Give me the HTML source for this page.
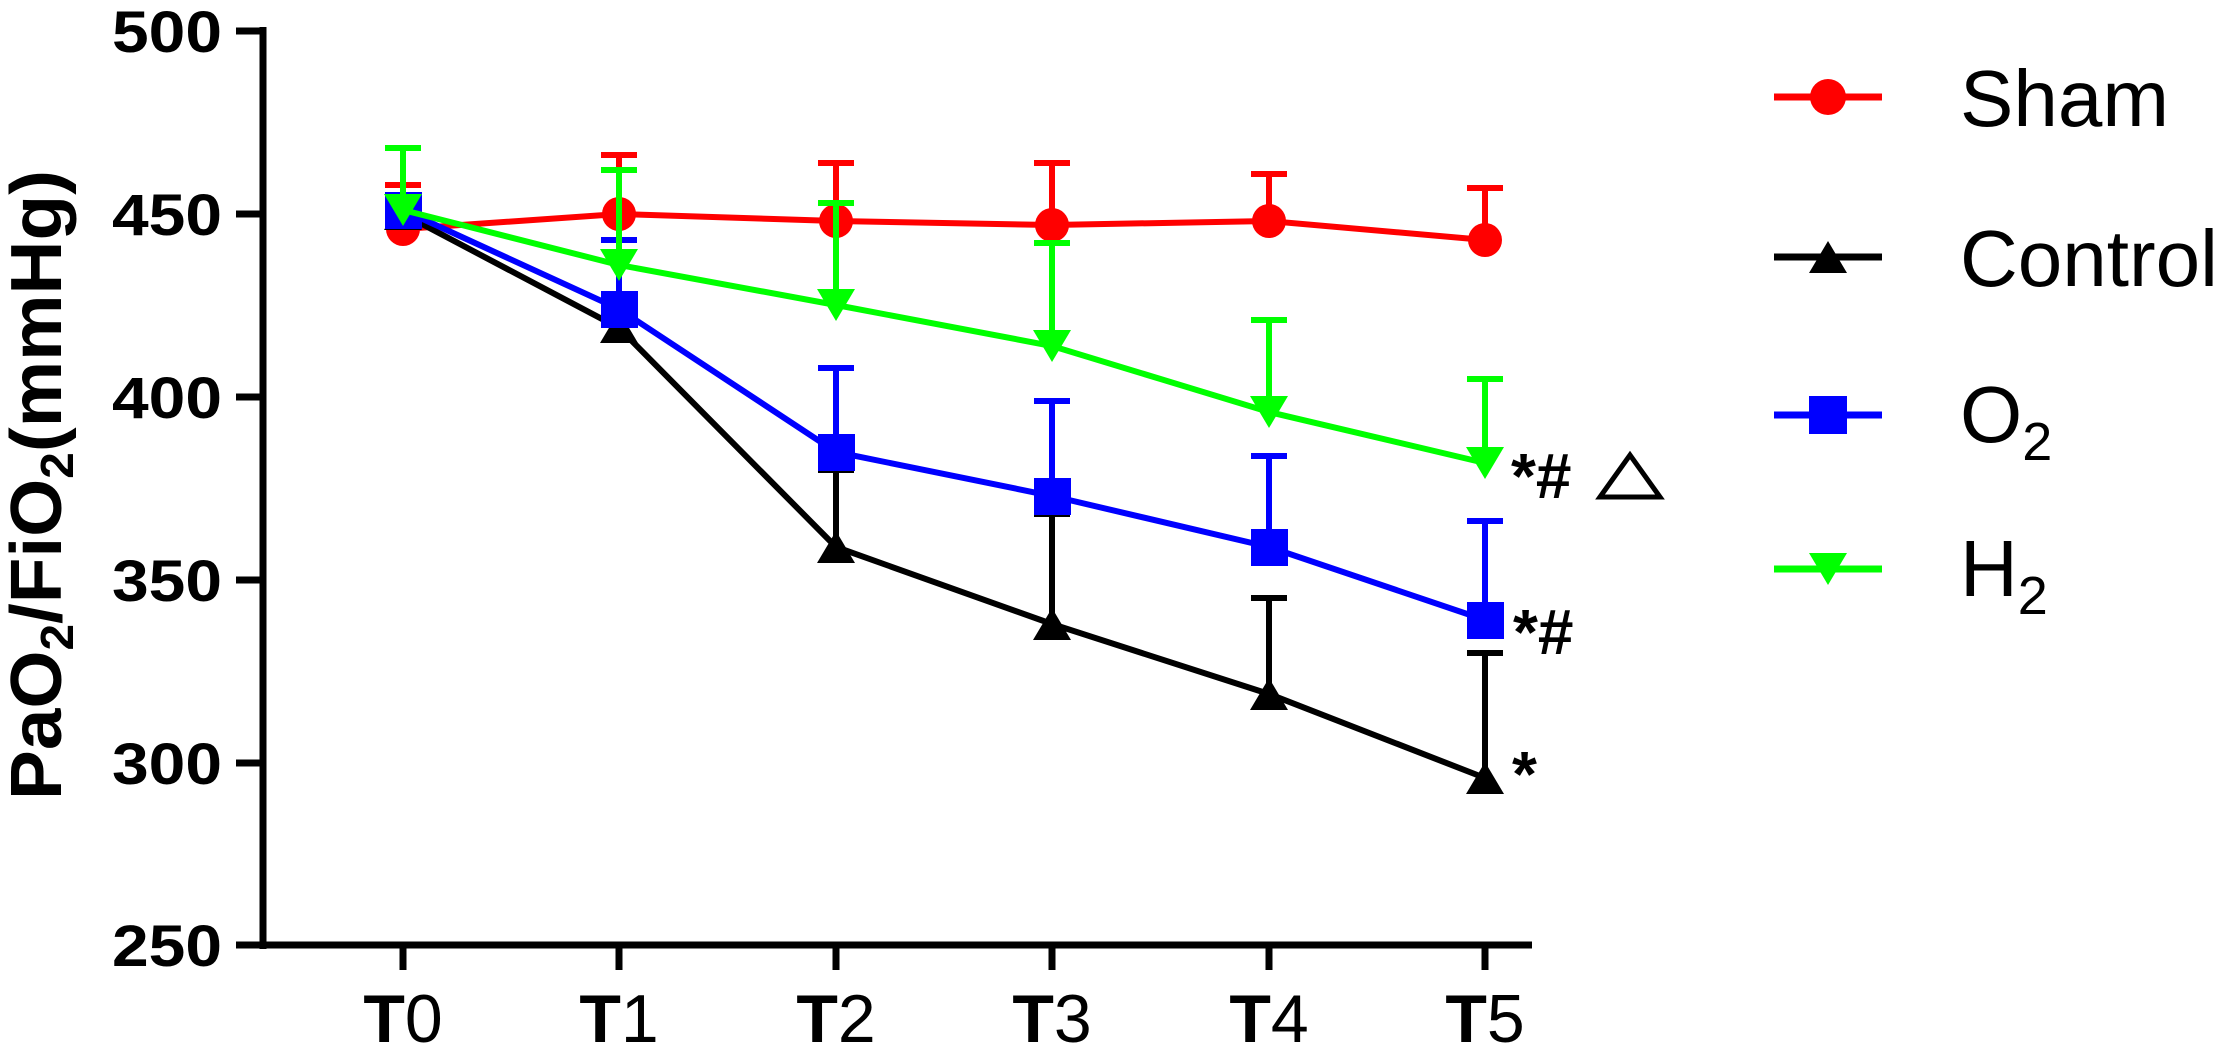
<!DOCTYPE html>
<html><head><meta charset="utf-8"><style>
html,body{margin:0;padding:0;background:#fff;}
svg{display:block;}
</style></head><body>
<svg width="2230" height="1050" viewBox="0 0 2230 1050" xmlns="http://www.w3.org/2000/svg" font-family="Liberation Sans, Arial, sans-serif">
<!-- axes -->
<g stroke="#000" stroke-width="7" fill="none">
<line x1="263" y1="27" x2="263" y2="949"/>
<line x1="260" y1="945" x2="1532" y2="945"/>
<line x1="236" y1="31" x2="263" y2="31"/>
<line x1="236" y1="214" x2="263" y2="214"/>
<line x1="236" y1="397" x2="263" y2="397"/>
<line x1="236" y1="580" x2="263" y2="580"/>
<line x1="236" y1="763" x2="263" y2="763"/>
<line x1="236" y1="945" x2="263" y2="945"/>
<line x1="403" y1="945" x2="403" y2="970"/>
<line x1="619" y1="945" x2="619" y2="970"/>
<line x1="836" y1="945" x2="836" y2="970"/>
<line x1="1052" y1="945" x2="1052" y2="970"/>
<line x1="1269" y1="945" x2="1269" y2="970"/>
<line x1="1485" y1="945" x2="1485" y2="970"/>
</g>
<g font-weight="bold" font-size="58" text-anchor="end">
<text x="222" y="52" textLength="110" lengthAdjust="spacingAndGlyphs">500</text>
<text x="222" y="235" textLength="110" lengthAdjust="spacingAndGlyphs">450</text>
<text x="222" y="418" textLength="110" lengthAdjust="spacingAndGlyphs">400</text>
<text x="222" y="601" textLength="110" lengthAdjust="spacingAndGlyphs">350</text>
<text x="222" y="784" textLength="110" lengthAdjust="spacingAndGlyphs">300</text>
<text x="222" y="966" textLength="110" lengthAdjust="spacingAndGlyphs">250</text>
</g>
<text transform="translate(61,800) rotate(-90)" font-size="72" font-weight="bold" textLength="630" lengthAdjust="spacingAndGlyphs">PaO<tspan font-size="46" dy="12">2</tspan><tspan dy="-12">/FiO</tspan><tspan font-size="46" dy="12">2</tspan><tspan dy="-12">(mmHg)</tspan></text>
<!-- x labels -->
<g font-size="68" text-anchor="middle">
<text x="403" y="1042"><tspan font-weight="bold">T</tspan><tspan>0</tspan></text>
<text x="619" y="1042"><tspan font-weight="bold">T</tspan><tspan>1</tspan></text>
<text x="836" y="1042"><tspan font-weight="bold">T</tspan><tspan>2</tspan></text>
<text x="1052" y="1042"><tspan font-weight="bold">T</tspan><tspan>3</tspan></text>
<text x="1269" y="1042"><tspan font-weight="bold">T</tspan><tspan>4</tspan></text>
<text x="1485" y="1042"><tspan font-weight="bold">T</tspan><tspan>5</tspan></text>
</g>
<!-- Sham -->
<g stroke="#f00" stroke-width="6" fill="none">
<path d="M403 229V185M385 185H421M619 214V155M601 155H637M836 221V163M818 163H854M1052 225V163M1034 163H1070M1269 221V174M1251 174H1287M1485 240V188M1467 188H1503"/>
<polyline points="403,229 619,214 836,221 1052,225 1269,221 1485,240"/>
</g>
<g fill="#f00">
<circle cx="403" cy="229" r="17"/><circle cx="619" cy="214" r="17"/><circle cx="836" cy="221" r="17"/><circle cx="1052" cy="225" r="17"/><circle cx="1269" cy="221" r="17"/><circle cx="1485" cy="240" r="17"/>
</g>
<!-- Control -->
<g stroke="#000" stroke-width="6" fill="none">
<path d="M403 214V199M385 199H421M619 328V309M601 309H637M836 547V470M818 470H854M1052 624V514M1034 514H1070M1269 694V598M1251 598H1287M1485 778V653M1467 653H1503"/>
<polyline points="403,214 619,328 836,547 1052,624 1269,694 1485,778"/>
</g>
<g fill="#000">
<path d="M403 198L422 230H384Z"/><path d="M619 311L638 343H600Z"/><path d="M836 531L855 563H817Z"/><path d="M1052 608L1071 640H1033Z"/><path d="M1269 678L1288 710H1250Z"/><path d="M1485 762L1504 794H1466Z"/>
</g>
<!-- O2 -->
<g stroke="#00f" stroke-width="6" fill="none">
<path d="M403 210V196M385 196H421M619 309V240M601 240H637M836 452V368M818 368H854M1052 496V401M1034 401H1070M1269 547V456M1251 456H1287M1485 620V521M1467 521H1503"/>
<polyline points="403,210 619,309 836,452 1052,496 1269,547 1485,620"/>
</g>
<g fill="#00f">
<rect x="385" y="192" width="37" height="37"/><rect x="601" y="291" width="37" height="37"/><rect x="818" y="434" width="37" height="37"/><rect x="1034" y="478" width="37" height="37"/><rect x="1251" y="529" width="37" height="37"/><rect x="1467" y="602" width="37" height="37"/>
</g>
<!-- H2 -->
<g stroke="#0f0" stroke-width="6" fill="none">
<path d="M403 210V148M385 148H421M619 265V170M601 170H637M836 305V203M818 203H854M1052 346V243M1034 243H1070M1269 412V320M1251 320H1287M1485 463V379M1467 379H1503"/>
<polyline points="403,210 619,265 836,305 1052,346 1269,412 1485,463"/>
</g>
<g fill="#0f0">
<path d="M403 226L422 194H384Z"/><path d="M619 281L638 249H600Z"/><path d="M836 321L855 289H817Z"/><path d="M1052 362L1071 330H1033Z"/><path d="M1269 428L1288 396H1250Z"/><path d="M1485 479L1504 447H1466Z"/>
</g>
<!-- annotations -->
<g font-size="64" font-weight="bold">
<text x="1511" y="498">*#</text>
<text x="1513" y="654">*#</text>
<text x="1512" y="796">*</text>
</g>
<path d="M1600 497L1630 455L1660 497Z" fill="none" stroke="#000" stroke-width="5"/>
<!-- legend -->
<g stroke-width="7">
<line x1="1774" y1="97" x2="1882" y2="97" stroke="#f00"/>
<line x1="1774" y1="257" x2="1882" y2="257" stroke="#000"/>
<line x1="1774" y1="415" x2="1882" y2="415" stroke="#00f"/>
<line x1="1774" y1="569" x2="1882" y2="569" stroke="#0f0"/>
</g>
<circle cx="1828" cy="97" r="18" fill="#f00"/>
<path d="M1828 241L1847 273H1809Z" fill="#000"/>
<rect x="1809" y="396" width="38" height="38" fill="#00f"/>
<path d="M1828 585L1847 553H1809Z" fill="#0f0"/>
<g font-size="80">
<text x="1960" y="126">Sham</text>
<text x="1960" y="286">Control</text>
<text x="1960" y="442">O<tspan font-size="54" dy="18">2</tspan></text>
<text x="1960" y="596">H<tspan font-size="54" dy="18">2</tspan></text>
</g>
</svg>
</body></html>
